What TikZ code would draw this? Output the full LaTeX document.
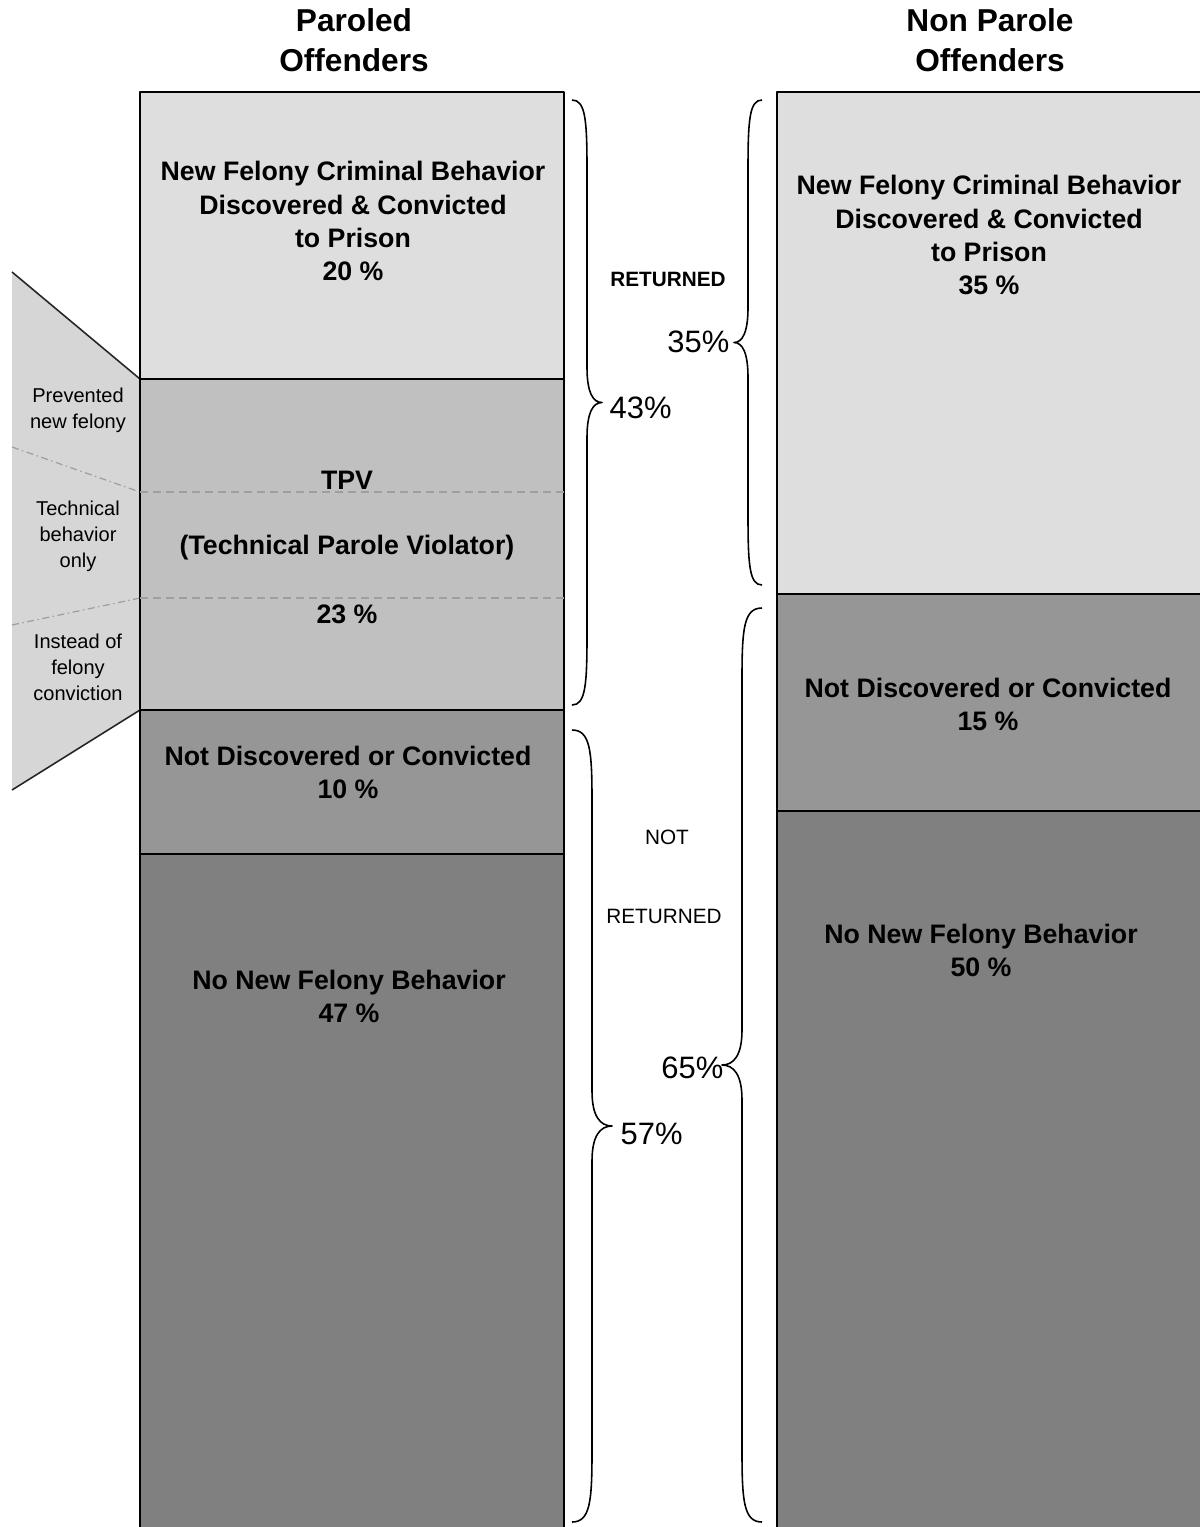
\documentclass[tikz,border=0pt]{standalone}
\usepackage{fontspec}
\setmainfont{Liberation Sans}
\definecolor{dotgray}{HTML}{DEDEDE}
\definecolor{sidegray}{HTML}{D6D6D6}
\definecolor{tpvgray}{HTML}{C0C0C0}
\definecolor{midgray}{HTML}{969696}
\definecolor{lowgray}{HTML}{808080}
% curly brace: x of ends, y top, y bottom, signed half amplitude
\newcommand{\sidebrace}[4]{%
  \draw[bracel] (#1,#2) .. controls ({#1+0.9*#4},#2) and ({#1+#4},{#2+20}) .. ({#1+#4},{#2+70})
    -- ({#1+#4},{(#2+#3)/2-35}) .. controls ({#1+#4},{(#2+#3)/2-10}) and ({#1+1.4*#4},{(#2+#3)/2}) .. ({#1+2*#4},{(#2+#3)/2})
    .. controls ({#1+1.4*#4},{(#2+#3)/2}) and ({#1+#4},{(#2+#3)/2+10}) .. ({#1+#4},{(#2+#3)/2+35})
    -- ({#1+#4},{#3-70}) .. controls ({#1+#4},{#3-20}) and ({#1+0.9*#4},#3) .. (#1,#3);}
\tikzset{
  box/.style={draw=black,line width=0.8pt},
  bracel/.style={line width=0.45pt},
  headtext/.style={font=\fontsize{9}{11.4}\selectfont\bfseries,align=center,inner sep=0pt},
  boxtext/.style={font=\fontsize{7.6}{9.4}\selectfont\bfseries,align=center,inner sep=0pt},
  sidetext/.style={font=\fontsize{5.7}{7.4}\selectfont,align=center,inner sep=0pt},
  pcttext/.style={font=\fontsize{8.8}{10}\selectfont,inner sep=0pt},
  rettext/.style={font=\fontsize{5.9}{7}\selectfont,inner sep=0pt},
  tpvdash/.style={draw=gray!75,line width=0.4pt,dash pattern=on 2.3pt off 1.4pt},
  sidedash/.style={draw=gray!75,line width=0.35pt,dash pattern=on 2pt off 1pt on 0.4pt off 1pt}
}
\begin{document}
\begin{tikzpicture}[x=0.01cm,y=-0.01cm,line join=round]
\useasboundingbox (0,0) rectangle (1199,1527);
% side wedge
\fill[sidegray] (12,272) -- (140,379) -- (140,710) -- (12,790) -- cycle;
\draw[gray!30!black,line width=0.45pt] (12,272) -- (140,379) (140,710) -- (12,790);
\draw[sidedash] (12,447) -- (140,492) (12,625) -- (140,598);
% paroled column
\draw[box,fill=dotgray] (140,92) rectangle (564,379);
\draw[box,fill=tpvgray] (140,379) rectangle (564,710);
\draw[box,fill=midgray] (140,710) rectangle (564,854);
\draw[box,fill=lowgray] (140,854) rectangle (564,1545);
\draw[tpvdash] (140,492) -- (564,492) (140,598) -- (564,598);
% non parole column
\draw[box,fill=dotgray] (777,92) rectangle (1215,594);
\draw[box,fill=midgray] (777,594) rectangle (1215,811);
\draw[box,fill=lowgray] (777,811) rectangle (1215,1545);
% braces
\sidebrace{572}{100}{705}{15}
\sidebrace{572}{730}{1522}{20}
\sidebrace{762}{100}{585}{-14}
\sidebrace{762}{608}{1522}{-20}
% headings
\node[headtext] (parhead) at (354,40) {Paroled\\Offenders};
\node[headtext] (nonhead) at (990,40) {Non Parole\\Offenders};
% paroled texts
\node[boxtext] (parnew) at (353,221) {New Felony Criminal Behavior\\Discovered \& Convicted\\to Prison\\20 \%};
\node[boxtext] (tpv) at (347,480) {TPV};
\node[boxtext] (tpvlong) at (347,548) {(Technical Parole Violator)};
\node[boxtext] (tpvpct) at (347,614) {23 \%};
\node[boxtext] (parnot) at (348,772) {Not Discovered or Convicted\\10 \%};
\node[boxtext] (parnone) at (349,996) {No New Felony Behavior\\47 \%};
% non parole texts
\node[boxtext] (nonnew) at (989,235) {New Felony Criminal Behavior\\Discovered \& Convicted\\to Prison\\35 \%};
\node[boxtext] (nonnot) at (988,704) {Not Discovered or Convicted\\15 \%};
\node[boxtext] (nonnone) at (981,950) {No New Felony Behavior\\50 \%};
% wedge texts
\node[sidetext] (prevent) at (78,410) {Prevented\\new felony};
\node[sidetext] (techonly) at (78,536) {Technical\\behavior\\only};
\node[sidetext] (instead) at (78,667) {Instead of\\felony\\conviction};
% brace labels
\node[rettext,font=\fontsize{5.9}{7}\selectfont\bfseries] (ret) at (668,279) {RETURNED};
\node[rettext] (notret1) at (667,837) {NOT};
\node[rettext] (notret2) at (664,916) {RETURNED};
\node[pcttext,anchor=west] (p43) at (609,408) {43\%};
\node[pcttext,anchor=west] (p57) at (620,1134) {57\%};
\node[pcttext,anchor=east] (p35) at (730,342) {35\%};
\node[pcttext,anchor=east] (p65) at (724,1068) {65\%};
\end{tikzpicture}
\end{document}
